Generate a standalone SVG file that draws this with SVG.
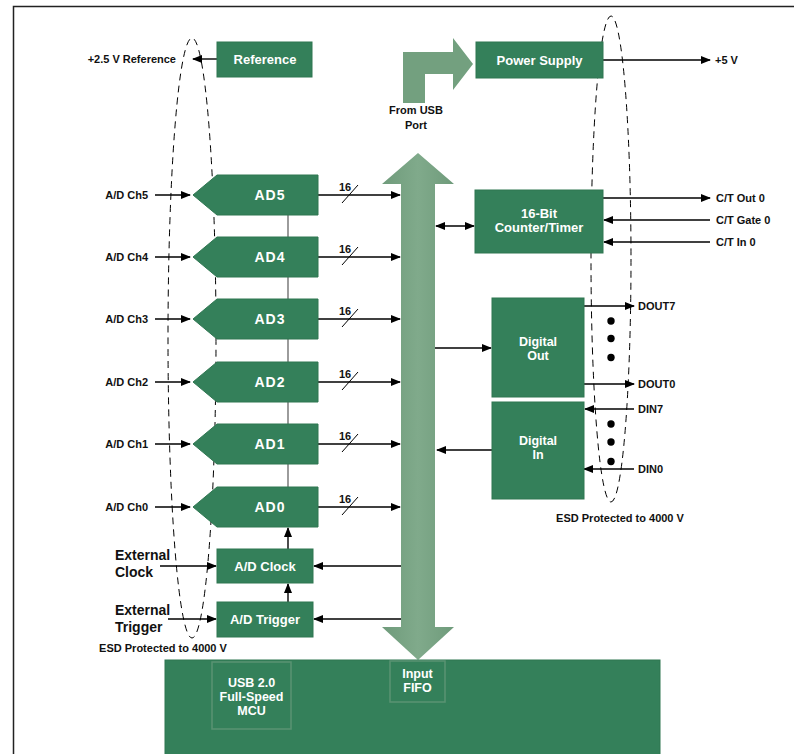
<svg xmlns="http://www.w3.org/2000/svg" width="794" height="754" viewBox="0 0 794 754">
<defs>
<style>
.box{fill:#34805a;stroke:#2f7651;stroke-width:1}
.inner{fill:#34805a;stroke:#5a9373;stroke-width:1.5}
.lbl{font-family:"Liberation Sans",Arial,sans-serif;font-weight:bold;font-size:11px;fill:#111}
.big{font-family:"Liberation Sans",Arial,sans-serif;font-weight:bold;font-size:14px;fill:#111}
.wt{font-family:"Liberation Sans",Arial,sans-serif;font-weight:bold;font-size:13px;fill:#fff;text-anchor:middle}
.wt2{font-family:"Liberation Sans",Arial,sans-serif;font-weight:bold;font-size:12.5px;fill:#fff;text-anchor:middle}
.ad{font-family:"Liberation Sans",Arial,sans-serif;font-weight:bold;font-size:14px;fill:#fff;text-anchor:middle;letter-spacing:1px}
.ln{stroke:#000;stroke-width:1.4;fill:none}
.dash{stroke:#000;stroke-width:1;fill:none;stroke-dasharray:7,5}
.mid{text-anchor:middle}
.end{text-anchor:end}
</style>
<marker id="ah" markerUnits="userSpaceOnUse" markerWidth="10" markerHeight="8" refX="9" refY="4" orient="auto-start-reverse">
<path d="M0,0 L10,4 L0,8 z" fill="#000"/>
</marker>
<linearGradient id="busg" x1="0" x2="1" y1="0" y2="0">
<stop offset="0" stop-color="#6f9b7b"/>
<stop offset="0.5" stop-color="#80aa8b"/>
<stop offset="1" stop-color="#6f9b7b"/>
</linearGradient>
</defs>
<rect x="0" y="0" width="794" height="754" fill="#fff"/>
<path d="M13.5,754 L13.5,6.5 L794,6.5" stroke="#222" stroke-width="1.5" fill="none"/>

<g id="esd-left">
<ellipse class="dash" cx="192" cy="338" rx="24" ry="300"/>
<text class="lbl mid" x="163" y="652">ESD Protected to 4000 V</text>
</g>
<g id="esd-right">
<ellipse class="dash" cx="611" cy="259" rx="20" ry="243"/>
<text class="lbl mid" x="620" y="522">ESD Protected to 4000 V</text>
</g>

<g id="connectors">
<line x1="288" y1="215" x2="288" y2="487" stroke="#666" stroke-width="1.3"/>
<line class="ln" x1="217" y1="59" x2="193" y2="59" marker-end="url(#ah)"/>
<line class="ln" x1="603" y1="60" x2="710" y2="60" marker-end="url(#ah)"/>
<line class="ln" x1="155" y1="195" x2="190" y2="195" marker-end="url(#ah)"/>
<line class="ln" x1="155" y1="257" x2="190" y2="257" marker-end="url(#ah)"/>
<line class="ln" x1="155" y1="319" x2="190" y2="319" marker-end="url(#ah)"/>
<line class="ln" x1="155" y1="382" x2="190" y2="382" marker-end="url(#ah)"/>
<line class="ln" x1="155" y1="444" x2="190" y2="444" marker-end="url(#ah)"/>
<line class="ln" x1="155" y1="507" x2="190" y2="507" marker-end="url(#ah)"/>
<line class="ln" x1="318" y1="195" x2="400" y2="195" marker-end="url(#ah)"/>
<line class="ln" x1="318" y1="257" x2="400" y2="257" marker-end="url(#ah)"/>
<line class="ln" x1="318" y1="319" x2="400" y2="319" marker-end="url(#ah)"/>
<line class="ln" x1="318" y1="382" x2="400" y2="382" marker-end="url(#ah)"/>
<line class="ln" x1="318" y1="444" x2="400" y2="444" marker-end="url(#ah)"/>
<line class="ln" x1="318" y1="507" x2="400" y2="507" marker-end="url(#ah)"/>
<g stroke="#000" stroke-width="1">
<line x1="342" y1="203" x2="358" y2="185"/>
<line x1="342" y1="265" x2="358" y2="247"/>
<line x1="342" y1="327" x2="358" y2="309"/>
<line x1="342" y1="390" x2="358" y2="372"/>
<line x1="342" y1="452" x2="358" y2="434"/>
<line x1="342" y1="515" x2="358" y2="497"/>
</g>
<text class="lbl mid" x="345" y="191">16</text>
<text class="lbl mid" x="345" y="253">16</text>
<text class="lbl mid" x="345" y="315">16</text>
<text class="lbl mid" x="345" y="378">16</text>
<text class="lbl mid" x="345" y="440">16</text>
<text class="lbl mid" x="345" y="503">16</text>
<line class="ln" x1="288" y1="549" x2="288" y2="528" marker-end="url(#ah)"/>
<line class="ln" x1="288" y1="602" x2="288" y2="584" marker-end="url(#ah)"/>
<line class="ln" x1="401" y1="566" x2="314" y2="566" marker-end="url(#ah)"/>
<line class="ln" x1="401" y1="619" x2="314" y2="619" marker-end="url(#ah)"/>
<line class="ln" x1="160" y1="566" x2="216" y2="566" marker-end="url(#ah)"/>
<line class="ln" x1="168" y1="619" x2="216" y2="619" marker-end="url(#ah)"/>
<line class="ln" x1="436" y1="226" x2="474" y2="226" marker-start="url(#ah)" marker-end="url(#ah)"/>
<line class="ln" x1="603" y1="198" x2="710" y2="198" marker-end="url(#ah)"/>
<line class="ln" x1="710" y1="220" x2="604" y2="220" marker-end="url(#ah)"/>
<line class="ln" x1="710" y1="242" x2="604" y2="242" marker-end="url(#ah)"/>
<line class="ln" x1="435" y1="348" x2="491" y2="348" marker-end="url(#ah)"/>
<line class="ln" x1="492" y1="450" x2="437" y2="450" marker-end="url(#ah)"/>
<line class="ln" x1="584" y1="306" x2="634" y2="306" marker-end="url(#ah)"/>
<line class="ln" x1="584" y1="384" x2="634" y2="384" marker-end="url(#ah)"/>
<line class="ln" x1="634" y1="409" x2="585" y2="409" marker-end="url(#ah)"/>
<line class="ln" x1="634" y1="469" x2="584" y2="469" marker-end="url(#ah)"/>
</g>

<g id="usb-port-arrow">
<polygon points="403,103 403,52 453,52 453,38 473,64 453,90 453,74 425,74 425,103" fill="#73a07f"/>
<text class="lbl mid" x="416" y="114">From USB</text>
<text class="lbl mid" x="416" y="129">Port</text>
</g>

<g id="bus">
<polygon points="418,153 454,184 435,184 435,627 454,627 418,660 382,627 401,627 401,184 382,184" fill="url(#busg)"/>
</g>

<g id="reference">
<rect class="box" x="217" y="42" width="95" height="35"/>
<text class="wt" x="265" y="64">Reference</text>
<text class="lbl end" x="176" y="63">+2.5 V Reference</text>
</g>
<g id="power-supply">
<rect class="box" x="476" y="42" width="127" height="36"/>
<text class="wt" x="539.5" y="65">Power Supply</text>
<text class="lbl" x="715" y="64">+5 V</text>
</g>

<g id="ad5"><polygon class="box" points="193,195 217,175 318,175 318,215 217,215"/><text class="ad" x="270" y="200">AD5</text><text class="lbl end" x="148" y="199">A/D Ch5</text></g>
<g id="ad4"><polygon class="box" points="193,257 217,237 318,237 318,277 217,277"/><text class="ad" x="270" y="262">AD4</text><text class="lbl end" x="148" y="261">A/D Ch4</text></g>
<g id="ad3"><polygon class="box" points="193,319 217,299 318,299 318,339 217,339"/><text class="ad" x="270" y="324">AD3</text><text class="lbl end" x="148" y="323">A/D Ch3</text></g>
<g id="ad2"><polygon class="box" points="193,382 217,362 318,362 318,402 217,402"/><text class="ad" x="270" y="387">AD2</text><text class="lbl end" x="148" y="386">A/D Ch2</text></g>
<g id="ad1"><polygon class="box" points="193,444 217,424 318,424 318,464 217,464"/><text class="ad" x="270" y="449">AD1</text><text class="lbl end" x="148" y="448">A/D Ch1</text></g>
<g id="ad0"><polygon class="box" points="193,507 217,487 318,487 318,527 217,527"/><text class="ad" x="270" y="512">AD0</text><text class="lbl end" x="148" y="511">A/D Ch0</text></g>

<g id="ad-clock">
<rect class="box" x="217" y="549" width="96" height="34"/>
<text class="wt" x="265" y="571">A/D Clock</text>
<text class="big" x="115" y="560">External</text>
<text class="big" x="115" y="577">Clock</text>
</g>
<g id="ad-trigger">
<rect class="box" x="217" y="602" width="96" height="35"/>
<text class="wt" x="265" y="624">A/D Trigger</text>
<text class="big" x="115" y="615">External</text>
<text class="big" x="115" y="632">Trigger</text>
</g>

<g id="counter-timer">
<rect class="box" x="475" y="190" width="128" height="63"/>
<text class="wt" x="539" y="217.5">16-Bit</text>
<text class="wt" x="539" y="232">Counter/Timer</text>
<text class="lbl" x="716" y="202">C/T Out 0</text>
<text class="lbl" x="716" y="224">C/T Gate 0</text>
<text class="lbl" x="716" y="246">C/T In 0</text>
</g>

<g id="digital-out">
<rect class="box" x="492" y="298" width="92" height="99"/>
<text class="wt2" x="538" y="346">Digital</text>
<text class="wt2" x="538" y="360">Out</text>
<text class="lbl" x="638" y="310">DOUT7</text>
<text class="lbl" x="638" y="388">DOUT0</text>
<circle cx="611" cy="321" r="3.7"/><circle cx="611" cy="338.5" r="3.7"/><circle cx="611" cy="357.5" r="3.7"/>
</g>
<g id="digital-in">
<rect class="box" x="492" y="402" width="92" height="97"/>
<text class="wt2" x="538" y="445">Digital</text>
<text class="wt2" x="538" y="459">In</text>
<text class="lbl" x="638" y="413">DIN7</text>
<text class="lbl" x="638" y="473">DIN0</text>
<circle cx="611" cy="424" r="3.7"/><circle cx="611" cy="442" r="3.7"/><circle cx="611" cy="461.5" r="3.7"/>
</g>

<g id="mcu-board">
<rect class="box" x="165" y="660" width="495" height="95"/>
</g>
<g id="usb-mcu">
<rect class="inner" x="212" y="662" width="79" height="67"/>
<text class="wt2" x="251.5" y="686.5">USB 2.0</text>
<text class="wt2" x="251.5" y="700.5">Full-Speed</text>
<text class="wt2" x="251.5" y="714.5">MCU</text>
</g>
<g id="input-fifo">
<rect class="inner" x="390" y="661" width="55" height="41"/>
<text class="wt2" x="417.5" y="678">Input</text>
<text class="wt2" x="417.5" y="692">FIFO</text>
</g>
</svg>
